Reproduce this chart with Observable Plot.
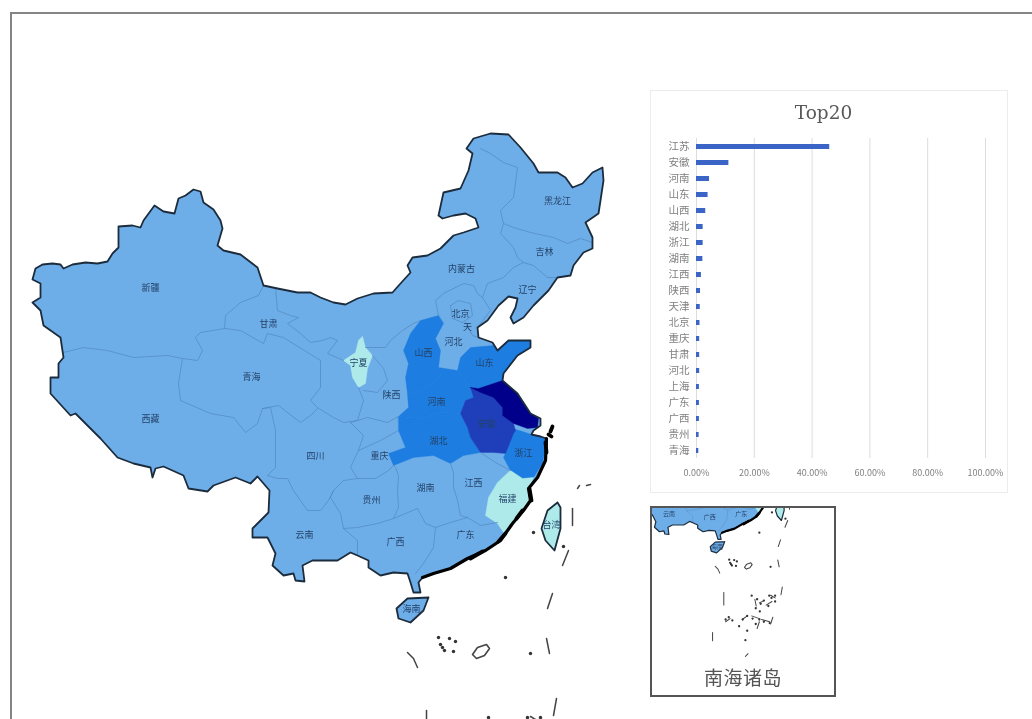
<!DOCTYPE html>
<html lang="zh">
<head>
<meta charset="utf-8">
<script src="https://cdn.jsdelivr.net/npm/d3@7"></script>
<script src="https://cdn.jsdelivr.net/npm/@observablehq/plot@0.6"></script>
<style>
html,body{margin:0;padding:0;background:#fff;width:1032px;height:719px;overflow:hidden}
#page{position:relative;width:1032px;height:719px;overflow:hidden;filter:blur(.7px)}
#frame{position:absolute;left:10px;top:12px;width:1040px;height:760px;border:2.5px solid #858585}
#map{position:absolute;left:0;top:0}
#card{position:absolute;left:650px;top:90px;width:356px;height:401px;border:1.5px solid #ececec;background:#fff}
#card h2{position:absolute;left:0;right:11px;top:11px;margin:0;text-align:center;font:400 18.5px "DejaVu Serif","Liberation Serif",serif;color:#595959}
#bars{position:absolute;left:0;top:0}
#inset{position:absolute;left:650px;top:506px;width:182px;height:187px;border:2px solid #555;background:#fff;overflow:hidden}
#inset div.t{position:absolute;left:0;right:0;bottom:5px;text-align:center;font:400 19px "Noto Sans CJK SC",sans-serif;color:#555;letter-spacing:.5px}
</style>
</head>
<body>
<div id="page">
  <div id="frame"></div>
  <div id="map"></div>
  <div id="card"><div id="bars"></div><h2>Top20</h2></div>
  <div id="inset"><div id="insetMap"></div><div class="t">南海诸岛</div></div>
</div>
<script>
// ---- Top20 bar chart values (share, %)
const topNames = ["江苏","安徽","河南","山东","山西","湖北","浙江","湖南","江西","陕西","天津","北京","重庆","甘肃","河北","上海","广东","广西","贵州","青海"];
const topShares = [46.1,11.2,4.5,4.0,3.2,2.3,2.3,2.2,1.7,1.4,1.3,1.2,1.1,1.1,1.1,1.0,1.0,1.0,0.9,0.8];
const shareTicks = [0,20,40,60,80,100];

// ---- Map geometry (in map units)
const mainland = [[32,279],[35,268],[42,264],[52,263],[60,264],[63,268],[72,264],[85,262],[97,263],[107,261],[112,253],[118,247],[118,226],[132,225],[140,227],[143,220],[154,205],[163,211],[174,213],[178,198],[185,195],[193,189],[200,191],[203,202],[213,209],[220,220],[222,228],[217,245],[223,250],[240,254],[257,267],[263,285],[277,288],[297,292],[310,292],[320,297],[333,302],[345,304],[357,298],[373,293],[392,292],[400,283],[410,272],[407,265],[412,257],[427,255],[440,248],[453,235],[463,232],[478,227],[475,218],[465,213],[453,215],[442,218],[438,215],[443,192],[460,188],[468,170],[472,153],[466,148],[473,138],[490,133],[508,134],[520,147],[533,163],[538,172],[557,172],[565,177],[572,187],[582,183],[592,172],[602,167],[603,180],[600,200],[598,213],[585,222],[592,237],[592,248],[583,252],[573,265],[570,275],[557,277],[548,290],[533,305],[523,317],[513,323],[510,317],[515,307],[517,298],[508,296],[498,305],[487,320],[477,327],[478,337],[492,342],[497,350],[508,340],[530,340],[530,347],[517,355],[503,373],[502,380],[517,393],[530,413],[540,418],[540,425],[533,430],[531,434],[540,436],[546,438],[545,460],[537,477],[528,488],[530,500],[523,510],[512,523],[500,540],[485,550],[467,558],[450,568],[433,573],[422,577],[418,582],[420,592],[413,592],[410,582],[407,573],[393,572],[380,575],[368,567],[368,560],[357,555],[350,552],[337,560],[323,560],[312,560],[302,565],[304,581],[295,580],[293,573],[283,575],[272,565],[275,553],[267,537],[252,537],[252,528],[268,512],[269,490],[257,476],[250,483],[235,477],[213,485],[207,491],[188,488],[183,475],[163,466],[155,468],[152,477],[150,467],[133,463],[117,457],[100,438],[82,420],[75,413],[70,415],[50,393],[50,377],[58,377],[58,363],[63,357],[60,337],[43,325],[40,310],[32,302],[40,297],[40,283]];
const hainan = [[428,597],[423,610],[410,622],[398,618],[396,608],[407,598]];
const southCoast = [[546,438],[545,460],[537,477],[528,488],[530,500],[523,510],[512,523],[500,540],[485,550],[467,558],[450,568],[433,573],[422,577]];
const coastBlobs = [[[545,442],[546,452]],[[529,488],[531,500]],[[522,510],[516,518]],[[505,533],[498,541]],[[482,551],[470,558]],[[552,426],[550,431]],[[548,434],[551,436]]];
const shanxi = [[438,315],[420,320],[410,333],[403,350],[408,363],[405,377],[407,393],[425,388],[440,375],[438,367],[440,350],[435,338],[443,323]];
const henan = [[407,393],[425,388],[440,375],[438,367],[457,370],[470,387],[473,397],[465,400],[460,413],[440,412],[420,418],[398,416],[408,407]];
const hubei = [[398,416],[420,418],[440,412],[460,413],[467,427],[470,437],[480,452],[463,455],[450,463],[433,455],[413,457],[393,465],[388,453],[405,447],[398,430]];
const shandong = [[457,370],[460,357],[470,347],[493,345],[497,350],[508,340],[530,340],[530,347],[517,355],[503,373],[502,380],[478,388],[470,387]];
const jiangsu = [[470,387],[478,388],[502,380],[517,393],[530,413],[538,418],[537,427],[527,428],[513,423],[502,415],[502,407],[493,397],[480,392]];
const anhui = [[480,392],[493,397],[502,407],[502,415],[513,423],[515,430],[513,433],[505,453],[493,452],[480,452],[470,437],[467,427],[460,413],[465,400],[473,397],[470,387]];
const zhejiang = [[512,428],[522,431],[531,434],[540,436],[546,438],[545,447],[542,463],[533,477],[522,478],[510,470],[503,457],[505,453],[508,443]];
const fujian = [[510,470],[522,478],[533,477],[528,488],[530,500],[523,510],[512,523],[503,532],[497,523],[485,515],[488,497],[497,482]];
const ningxia = [[362,336],[365,347],[372,355],[367,368],[365,383],[358,387],[352,377],[350,365],[343,360],[355,352],[358,340]];
const taiwan = [[557,502],[560,507],[560,528],[554,550],[545,540],[541,528],[547,510]];

const innerBorders = [
  [[263,285],[258,295],[240,302],[225,315],[224,328],[200,332],[195,337],[202,350],[197,360],[182,358],[167,355],[133,357],[107,350],[83,347],[63,352]],
  [[182,358],[178,383],[180,400],[210,413],[233,417],[245,432],[257,423],[262,408],[278,405],[300,422],[310,415],[317,408]],
  [[224,328],[240,330],[263,343],[267,333],[283,337],[320,360],[320,387],[310,400],[317,407],[333,417],[343,422],[357,420],[363,400],[358,387]],
  [[275,288],[277,310],[290,315],[298,317],[287,323],[300,333],[310,342],[322,340],[330,337],[337,340],[327,353],[343,360]],
  [[365,347],[385,347],[390,340],[402,330],[413,323],[420,320]],
  [[372,355],[383,368],[387,380],[377,392],[363,390]],
  [[350,422],[367,417],[387,422],[398,416]],
  [[438,315],[437,310],[435,300],[443,293],[463,283],[473,285],[477,293],[482,297],[487,283],[503,277],[513,267],[523,262],[517,257],[513,247],[500,233],[503,223],[513,227],[530,232],[553,237],[567,243],[580,238],[592,242]],
  [[503,223],[500,210],[513,197],[517,167],[503,162],[490,153],[480,148]],
  [[523,262],[533,265],[547,277],[557,277]],
  [[482,297],[490,310],[477,327]],
  [[450,305],[458,300],[470,303],[472,315],[462,322],[452,318],[450,305]],
  [[465,322],[472,335],[478,337]],
  [[262,408],[270,407],[275,430],[275,467],[267,475],[277,478],[287,478],[293,490],[307,510],[320,510],[328,500],[333,490],[343,480],[357,478],[375,478],[388,470],[393,465]],
  [[357,478],[350,467],[358,450],[380,440],[398,430]],
  [[358,450],[363,435],[350,422]],
  [[333,490],[330,497],[340,513],[343,528],[357,540],[357,555]],
  [[343,528],[357,527],[377,523],[393,518],[417,508],[425,523],[435,527],[450,522],[467,517],[480,525],[497,522]],
  [[393,518],[398,507],[397,490],[398,475],[395,467],[393,465]],
  [[450,463],[453,472],[453,487],[457,500],[460,515],[467,517]],
  [[435,527],[433,547],[423,563],[415,573]],
  [[480,452],[495,462],[510,470]]
];
const seaDashes = [
  [[572,508],[572,525]],[[568,550],[562,565]],[[552,593],[547,608]],[[546,638],[549,653]],
  [[407,652],[413,658],[417,667]],[[556,698],[553,715]],[[426,710],[426,738]],[[401,799],[401,817]],
  [[474,852],[480,846]],[[577,488],[579,485]],[[586,485],[590,484]],
  [[495,725],[498,740]],[[505,733],[515,728]],[[520,738],[533,730]],[[540,722],[530,716]],
  [[467,770],[478,762]],[[488,762],[505,768]],[[510,770],[528,775]],[[505,775],[500,790]],[[535,765],[530,780]],[[430,775],[440,768]]
];
const seaDots = [
  [533,532],[563,546],[505,577],[530,653],[442,647],[440,644],[444,650],[438,637],[449,638],[453,651],[455,641],
  [488,717],[527,717],[540,717],[500,725],[508,735],[497,745],[515,728],[525,740],[532,722],[540,730],[506,752],
  [430,770],[437,765],[445,772],[468,770],[478,762],[490,768],[505,770],[515,775],[497,780],[528,778],[474,816],[478,795],[460,785]
];
const reefRing = [[472,654],[477,647],[486,644],[489,648],[484,655],[476,658]];

// ---- Province shading: value (share %) per shaded shape
const shadeTable = [
  ["山西",shanxi,3.2],["河南",henan,4.5],["湖北",hubei,2.3],["山东",shandong,4.0],["浙江",zhejiang,2.3],
  ["安徽",anhui,11.2],["江苏",jiangsu,46.1],["福建",fujian,0.3],["宁夏",ningxia,0.3],["台湾",taiwan,0.3]
];
const restValue = 1.1;
const shadeBreaks = [0.5,2.25,10,20];
const shadeColors = ["#aeeaea","#6eaee8","#1d7de0","#1e3fb9","#00008b"];

// ---- Province labels at map positions
const labelNames = ["新疆","甘肃","青海","西藏","四川","云南","贵州","广西","广东","湖南","江西","福建","浙江","安徽","湖北","河南","山东","山西","河北","北京","天","陕西","宁夏","重庆","内蒙古","辽宁","吉林","黑龙江","台湾","海南"];
const labelX = [150,268,251,150,315,304,371,395,465,425,473,507,523,486,438,436,484,423,453,460,467,391,358,379,461,527,544,557,551,411];
const labelY = [288,324,377,419,456,535,500,542,535,488,483,499,453,424,441,402,363,353,342,314,327,395,363,456,269,290,252,201,525,609];

const poly = pts => ({type:"Polygon",coordinates:[[...pts,pts[0]]]});
const ring = pts => ({type:"LineString",coordinates:[...pts,pts[0]]});
const line = pts => ({type:"LineString",coordinates:pts});
const shapes = shadeTable.map(([name,pts,value]) => ({name,value,geom:poly(pts)}));
const base = [mainland,hainan].map(pts => ({value:restValue,geom:poly(pts)}));
const labels = labelNames.map((name,i) => ({name,x:labelX[i],y:labelY[i]}));
const colorScale = {type:"threshold",domain:shadeBreaks,range:shadeColors};

function mapMarks(k, shown){
  return [
    Plot.geo(base,{geometry:d=>d.geom,fill:d=>d.value,stroke:"none"}),
    Plot.geo(shapes,{geometry:d=>d.geom,fill:d=>d.value,stroke:d=>d.value,strokeWidth:.4}),
    Plot.geo(innerBorders.map(line),{stroke:"#4f86bf",strokeOpacity:.75,strokeWidth:Math.max(.5,.9*k),fill:"none"}),
    Plot.geo([ring(mainland),ring(hainan),ring(taiwan)],{stroke:"#1c2c3c",strokeWidth:1.8*Math.sqrt(k),fill:"none",strokeLinejoin:"round"}),
    Plot.geo([line(southCoast)],{stroke:"#000",strokeWidth:3.2*Math.sqrt(k),fill:"none",strokeLinejoin:"round"}),
    Plot.geo(coastBlobs.map(line),{stroke:"#000",strokeWidth:3.8*Math.sqrt(k),fill:"none",strokeLinecap:"round"}),
    Plot.geo(seaDashes.map(line),{stroke:"#444",strokeWidth:1.5*Math.sqrt(k),fill:"none",strokeLinecap:"round"}),
    Plot.geo([ring(reefRing)],{stroke:"#444",strokeWidth:1.6*Math.sqrt(k),fill:"#fff"}),
    Plot.dot(seaDots,{x:d=>d[0],y:d=>d[1],r:1.7*Math.sqrt(k),fill:"#333",stroke:"none"}),
    Plot.text(shown,{x:"x",y:"y",text:"name",fontSize:k<1?6:9,fill:"#234269",fontFamily:"'Noto Sans CJK SC',sans-serif"})
  ];
}

document.getElementById("map").append(Plot.plot({
  width:1032,height:719,margin:0,
  projection:d3.geoIdentity(),
  style:{background:"transparent"},
  color:colorScale,
  marks:mapMarks(1,labels)
}));

const insetK = .45;
const insetLabels = labels.filter(d => d.y > 530);
document.getElementById("insetMap").append(Plot.plot({
  width:182,height:187,margin:0,
  projection:d3.geoIdentity().scale(insetK).translate([-120.4,-235.5]),
  style:{background:"transparent"},
  color:colorScale,
  marks:mapMarks(insetK,insetLabels)
}));

const topRows = topNames.map((name,i) => ({name,share:topShares[i]}));
document.getElementById("bars").append(Plot.plot({
  width:356,height:401,marginLeft:45,marginRight:22,marginTop:47,marginBottom:34,
  style:{background:"transparent",fontFamily:"'Noto Sans CJK SC',sans-serif"},
  x:{domain:[0,100],ticks:shareTicks,tickFormat:d=>d.toFixed(2)+"%",label:null,tickSize:0,tickPadding:11},
  y:{domain:topNames,label:null,tickSize:0,tickPadding:7,paddingInner:.7,paddingOuter:.35},
  marks:[
    Plot.gridX(shareTicks,{stroke:"#dcdcdc",strokeOpacity:1,strokeWidth:1}),
    Plot.axisX({ticks:shareTicks,anchor:"bottom",tickFormat:d=>d.toFixed(2)+"%",tickSize:0,tickPadding:11,fontSize:9,color:"#808080",label:null}),
    Plot.axisY({anchor:"left",tickSize:0,tickPadding:7,fontSize:10.5,color:"#808080",label:null}),
    Plot.barX(topRows,{x:"share",y:"name",fill:"#3a64c6"})
  ]
}));
</script>
</body>
</html>
